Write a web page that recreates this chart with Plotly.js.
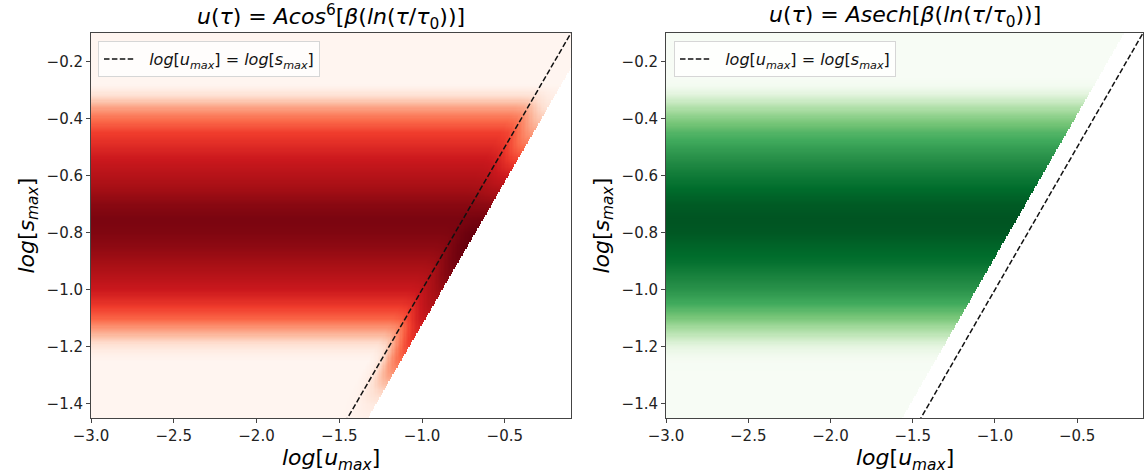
<!DOCTYPE html>
<html>
<head>
<meta charset="utf-8">
<script src="https://cdn.plot.ly/plotly-3.0.1.min.js"></script>
<style>html,body{margin:0;padding:0;background:#fff;}#chart{width:1146px;height:476px;}</style>
</head>
<body>
<div id="chart"></div>
<script>
// ---- values ----
const xRange = [-3.0, -0.1];          // log[u_max]
const yRange = [-1.45, -0.1];         // log[s_max]
const xTickStep = 0.5;
const yTickStep = 0.2;

// vertical profile knots (log[s_max])
const yKnots = [-1.45,-1.40,-1.35,-1.30,-1.25,-1.22,-1.19,-1.16,-1.13,-1.10,-1.05,-1.00,-0.95,-0.90,-0.85,-0.80,-0.75,-0.70,-0.65,-0.60,-0.55,-0.50,-0.45,-0.40,-0.36,-0.33,-0.30,-0.28,-0.25,-0.10];
// cos^6 panel: intensity far from the cut-off
const redBase  = [0,0,0,0,0,0.04,0.12,0.25,0.38,0.52,0.65,0.75,0.82,0.88,0.92,0.95,0.96,0.93,0.88,0.82,0.76,0.69,0.62,0.48,0.32,0.17,0.05,0,0,0];
// cos^6 panel: intensity right at the cut-off
const redEdge  = [0.02,0.07,0.18,0.35,0.5,0.57,0.63,0.68,0.72,0.77,0.84,0.9,0.95,0.98,1.0,1.0,0.97,0.92,0.84,0.74,0.62,0.48,0.34,0.2,0.1,0.05,0.02,0,0,0];
// sech panel intensity
const greenBase = [0,0,0,0,0.01,0.06,0.15,0.27,0.375,0.48,0.62,0.72,0.79,0.86,0.9,0.94,0.95,0.93,0.88,0.82,0.75,0.67,0.58,0.45,0.32,0.2,0.08,0.02,0,0];
// how the cut-off enhancement fades with distance from the cut-off (cos^6 panel)
const edgeDist   = [0, 0.03, 0.06, 0.09, 0.12, 0.15, 0.2];
const edgeWeight = [1, 0.9, 0.72, 0.48, 0.24, 0.08, 0];
// cut-off: values exist only where log[u_max] <= log[s_max] + offset
const cutOffsetRed = 0.12;
const cutOffsetGreen = -0.115;

const titleLeft  = '<i>u</i>(<i>τ</i>) = <i>Acos</i><sup>6</sup>[<i>β</i>(<i>ln</i>(<i>τ</i>/<i>τ</i><sub>0</sub>))]';
const titleRight = '<i>u</i>(<i>τ</i>) = <i>Asech</i>[<i>β</i>(<i>ln</i>(<i>τ</i>/<i>τ</i><sub>0</sub>))]';
const xLabel = '<i>log</i>[<i>u</i><sub><i>max</i></sub>]';
const yLabel = '<i>log</i>[<i>s</i><sub><i>max</i></sub>]';
const legendLabel = '&nbsp;&nbsp;<i>log</i>[<i>u</i><sub><i>max</i></sub>] = <i>log</i>[<i>s</i><sub><i>max</i></sub>]';

// matplotlib colormaps
const Reds = [[0,'#fff5f0'],[0.125,'#fee0d2'],[0.25,'#fcbba1'],[0.375,'#fc9272'],[0.5,'#fb6a4a'],[0.625,'#ef3b2c'],[0.75,'#cb181d'],[0.875,'#a50f15'],[1,'#67000d']];
const Greens = [[0,'#f7fcf5'],[0.125,'#e5f5e0'],[0.25,'#c7e9c0'],[0.375,'#a1d99b'],[0.5,'#74c476'],[0.625,'#41ab5d'],[0.75,'#238b45'],[0.875,'#006d2c'],[1,'#00441b']];

// ---- build the image grids from the profiles ----
function lerp(xs, ys, v) {
  if (v <= xs[0]) return ys[0];
  if (v >= xs[xs.length-1]) return ys[ys.length-1];
  for (let i = 1; i < xs.length; i++) {
    if (v <= xs[i]) { const t = (v - xs[i-1])/(xs[i]-xs[i-1]); return ys[i-1] + t*(ys[i]-ys[i-1]); }
  }
  return ys[ys.length-1];
}
const dx = 0.008, dy = 0.004;
const gx = [], gy = [];
for (let i = 0; xRange[0] + i*dx <= xRange[1] + 1e-9; i++) gx.push(xRange[0] + i*dx);
for (let j = 0; yRange[0] + j*dy <= yRange[1] + 1e-9; j++) gy.push(yRange[0] + j*dy);

const zRed = [], zGreen = [];
for (const y of gy) {
  const b = lerp(yKnots, redBase, y), e = lerp(yKnots, redEdge, y), g = lerp(yKnots, greenBase, y);
  const rowR = [], rowG = [];
  for (const x of gx) {
    const dR = (y + cutOffsetRed) - x;
    rowR.push(dR < 0 ? null : b + (e - b)*lerp(edgeDist, edgeWeight, dR));
    const dG = (y + cutOffsetGreen) - x;
    rowG.push(dG < 0 ? null : g);
  }
  zRed.push(rowR); zGreen.push(rowG);
}

const diagX = [xRange[0], xRange[1] + 0.1];
const diagY = diagX.slice();

const font = 'DejaVu Sans, sans-serif';
const traces = [
  {type:'heatmap', x:gx, y:gy, z:zRed, colorscale:Reds, zmin:0, zmax:1, showscale:false, hoverinfo:'skip', xaxis:'x', yaxis:'y'},
  {type:'scatter', mode:'lines', x:diagX, y:diagY, line:{color:'#111', width:1.5, dash:'5.5px,2.4px'}, name:legendLabel, xaxis:'x', yaxis:'y', legend:'legend', showlegend:true},
  {type:'heatmap', x:gx, y:gy, z:zGreen, colorscale:Greens, zmin:0, zmax:1, showscale:false, hoverinfo:'skip', xaxis:'x2', yaxis:'y2'},
  {type:'scatter', mode:'lines', x:diagX, y:diagY, line:{color:'#111', width:1.5, dash:'5.5px,2.4px'}, name:legendLabel, xaxis:'x2', yaxis:'y2', legend:'legend2', showlegend:true}
];

const axisCommon = {showline:true, mirror:true, linecolor:'#444', linewidth:1, ticks:'outside', ticklen:4, tickwidth:1, tickcolor:'#444',
  showgrid:false, zeroline:false, tickfont:{family:font, size:15, color:'#222'}, tickformat:'.1f', tick0:0};
const yDomain = [1-418/476, 1-33/476];
const leftDom = [91/1146, 571/1146];
const rightDom = [666/1146, 1143/1146];

const legendCommon = {bgcolor:'rgba(255,255,255,0.8)', bordercolor:'#d6d6d6', borderwidth:1, font:{family:font, size:16, color:'#111'},
  xanchor:'left', yanchor:'top', itemclick:false, itemdoubleclick:false};

const layout = {
  width:1146, height:476, margin:{l:0, r:0, t:0, b:0}, paper_bgcolor:'#fff', plot_bgcolor:'#fff',
  xaxis: Object.assign({}, axisCommon, {domain:leftDom, range:xRange, dtick:xTickStep, anchor:'y'}),
  yaxis: Object.assign({}, axisCommon, {domain:yDomain, range:yRange, dtick:yTickStep, anchor:'x'}),
  xaxis2: Object.assign({}, axisCommon, {domain:rightDom, range:xRange, dtick:xTickStep, anchor:'y2'}),
  yaxis2: Object.assign({}, axisCommon, {domain:yDomain, range:yRange, dtick:yTickStep, anchor:'x2'}),
  legend: Object.assign({}, legendCommon, {x:98/1146, y:1-41/476}),
  legend2: Object.assign({}, legendCommon, {x:674/1146, y:1-41/476}),
  annotations: [
    {text:titleLeft, xref:'paper', yref:'paper', x:(leftDom[0]+leftDom[1])/2, y:1-17/476, xanchor:'center', yanchor:'middle', showarrow:false, font:{family:font, size:22, color:'#000'}},
    {text:titleRight, xref:'paper', yref:'paper', x:(rightDom[0]+rightDom[1])/2, y:1-17/476, xanchor:'center', yanchor:'middle', showarrow:false, font:{family:font, size:22, color:'#000'}},
    {text:xLabel, xref:'paper', yref:'paper', x:(leftDom[0]+leftDom[1])/2, y:1-459/476, xanchor:'center', yanchor:'middle', showarrow:false, font:{family:font, size:22, color:'#000'}},
    {text:xLabel, xref:'paper', yref:'paper', x:(rightDom[0]+rightDom[1])/2, y:1-459/476, xanchor:'center', yanchor:'middle', showarrow:false, font:{family:font, size:22, color:'#000'}},
    {text:yLabel, xref:'paper', yref:'paper', x:28/1146, y:(yDomain[0]+yDomain[1])/2, xanchor:'center', yanchor:'middle', textangle:-90, showarrow:false, font:{family:font, size:22, color:'#000'}},
    {text:yLabel, xref:'paper', yref:'paper', x:603/1146, y:(yDomain[0]+yDomain[1])/2, xanchor:'center', yanchor:'middle', textangle:-90, showarrow:false, font:{family:font, size:22, color:'#000'}}
  ]
};

Plotly.newPlot('chart', traces, layout, {staticPlot:true, displayModeBar:false});
</script>
</body>
</html>
